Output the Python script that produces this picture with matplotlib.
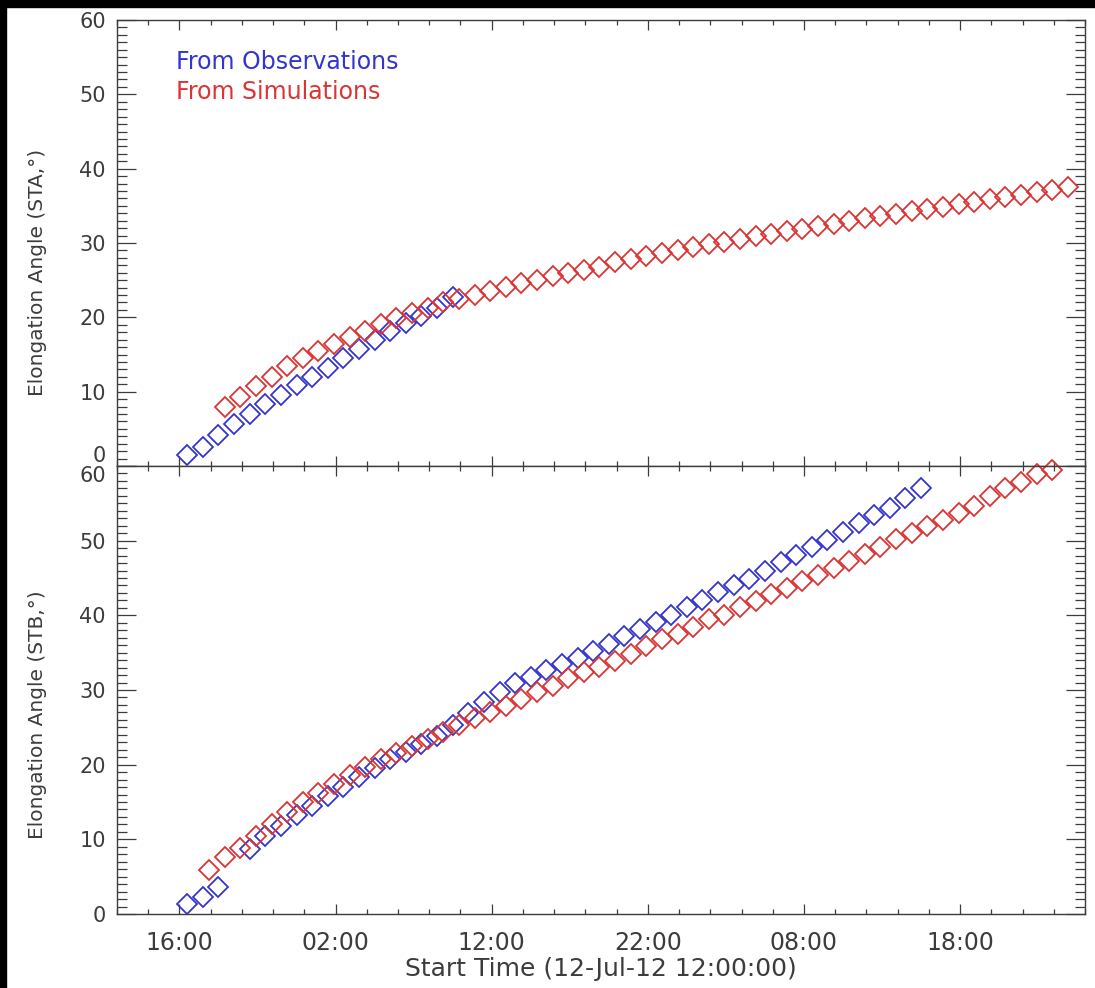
import matplotlib.pyplot as plt
from matplotlib.ticker import MultipleLocator
from matplotlib.patches import Rectangle

# time in hours after 12-Jul-12 12:00:00
sta_obs_t = [4.5, 5.5, 6.5, 7.5, 8.5, 9.5, 10.5, 11.5, 12.5, 13.5, 14.5, 15.5,
             16.5, 17.5, 18.5, 19.5, 20.5, 21.5]
sta_obs_v = [1.5, 2.6, 4.2, 5.6, 7.0, 8.3, 9.6, 10.9, 12.0, 13.2, 14.5, 15.7,
             17.0, 18.1, 19.2, 20.2, 21.3, 22.8]

sta_sim_t = [6.9, 7.9, 8.9, 9.9, 10.9, 11.9, 12.9, 13.9, 14.9, 15.9, 16.9, 17.9,
             18.9, 19.9, 20.9, 21.9, 22.9, 23.9, 24.9, 25.9, 26.9, 27.9, 28.9,
             29.9, 30.9, 31.9, 32.9, 33.9, 34.9, 35.9, 36.9, 37.9, 38.9, 39.9,
             40.9, 41.9, 42.9, 43.9, 44.9, 45.9, 46.9, 47.9, 48.9, 49.9, 50.9,
             51.9, 52.9, 53.9, 54.9, 55.9, 56.9, 57.9, 58.9, 59.9, 60.9]
sta_sim_v = [7.9, 9.3, 10.8, 12.0, 13.4, 14.5, 15.5, 16.4, 17.3, 18.2, 19.1, 19.9,
             20.6, 21.3, 22.0, 22.5, 23.0, 23.5, 24.1, 24.6, 25.0, 25.5, 26.0,
             26.4, 26.8, 27.4, 27.8, 28.2, 28.6, 29.0, 29.4, 29.8, 30.1, 30.5,
             30.9, 31.2, 31.6, 31.9, 32.3, 32.6, 32.9, 33.3, 33.6, 33.9, 34.3,
             34.6, 34.9, 35.2, 35.5, 35.9, 36.2, 36.5, 36.8, 37.1, 37.5]

stb_obs_t = [4.5, 5.5, 6.5, 8.5, 9.5, 10.5, 11.5, 12.5, 13.5, 14.5, 15.5, 16.5,
             17.5, 18.5, 19.5, 20.5, 21.5, 22.5, 23.5, 24.5, 25.5, 26.5, 27.5,
             28.5, 29.5, 30.5, 31.5, 32.5, 33.5, 34.5, 35.5, 36.5, 37.5, 38.5,
             39.5, 40.5, 41.5, 42.5, 43.5, 44.5, 45.5, 46.5, 47.5, 48.5, 49.5,
             50.5, 51.5]
stb_obs_v = [1.3, 2.3, 3.6, 8.7, 10.4, 11.8, 13.2, 14.5, 15.8, 17.0, 18.3, 19.5,
             20.7, 21.7, 22.8, 23.9, 25.3, 26.9, 28.4, 29.7, 30.9, 31.8, 32.7,
             33.5, 34.3, 35.2, 36.2, 37.2, 38.2, 39.1, 40.1, 41.1, 42.1, 43.1,
             44.0, 44.9, 46.0, 47.2, 48.1, 49.2, 50.1, 51.2, 52.3, 53.5, 54.4,
             55.7, 57.0]

stb_sim_t = [5.9, 6.9, 7.9, 8.9, 9.9, 10.9, 11.9, 12.9, 13.9, 14.9, 15.9, 16.9,
             17.9, 18.9, 19.9, 20.9, 21.9, 22.9, 23.9, 24.9, 25.9, 26.9, 27.9,
             28.9, 29.9, 30.9, 31.9, 32.9, 33.9, 34.9, 35.9, 36.9, 37.9, 38.9,
             39.9, 40.9, 41.9, 42.9, 43.9, 44.9, 45.9, 46.9, 47.9, 48.9, 49.9,
             50.9, 51.9, 52.9, 53.9, 54.9, 55.9, 56.9, 57.9, 58.9, 59.9]
stb_sim_v = [5.9, 7.6, 8.8, 10.5, 12.0, 13.6, 15.0, 16.2, 17.4, 18.6, 19.7, 20.7,
             21.6, 22.5, 23.5, 24.4, 25.3, 26.2, 27.1, 27.9, 28.8, 29.7, 30.6,
             31.6, 32.4, 33.1, 33.9, 34.8, 35.9, 36.8, 37.5, 38.4, 39.5, 40.1,
             41.1, 41.9, 42.8, 43.7, 44.6, 45.4, 46.4, 47.3, 48.2, 49.1, 50.2,
             51.0, 51.9, 52.8, 53.7, 54.6, 56.0, 57.0, 57.9, 58.9, 59.4]

tick_hours = [4, 14, 24, 34, 44, 54]
tick_labels = ['16:00', '02:00', '12:00', '22:00', '08:00', '18:00']
y_ticks = [0, 10, 20, 30, 40, 50, 60]

blue = '#3434d0'
red = '#dc3434'
grey = '#3c3c3c'

fig = plt.figure(figsize=(10.95, 9.88), dpi=100)
W, H = 1095, 988
ax1 = fig.add_axes([117 / W, 1 - 466 / H, 968 / W, 446 / H])
ax2 = fig.add_axes([117 / W, 1 - 914 / H, 968 / W, 448 / H])

# black frame strips of the original screenshot
fig.patches.append(Rectangle((0, 1 - 7 / H), 1, 7 / H, transform=fig.transFigure,
                             color='black', zorder=10))
fig.patches.append(Rectangle((0, 0), 6 / W, 1, transform=fig.transFigure,
                             color='black', zorder=10))


def style(ax, ylabel, label_y):
    ax.set_xlim(0, 62)
    ax.set_ylim(0, 60)
    ax.set_xticks(tick_hours)
    ax.xaxis.set_minor_locator(MultipleLocator(2))
    ax.set_yticks(y_ticks)
    ax.yaxis.set_minor_locator(MultipleLocator(1))
    for s in ax.spines.values():
        s.set_color(grey)
        s.set_linewidth(1.0)
    ax.tick_params(axis='both', which='both', direction='in', top=True, right=True,
                   color=grey, width=0.9, labelcolor=grey)
    ax.tick_params(axis='x', which='major', length=7, pad=12, labelsize=17)
    ax.tick_params(axis='x', which='minor', length=3.5)
    ax.tick_params(axis='y', which='major', length=14, pad=8, labelsize=15)
    ax.tick_params(axis='y', which='minor', length=7.5)
    ax.set_ylabel(ylabel, fontsize=14.5, color=grey)
    ax.yaxis.set_label_coords(-0.072, label_y)


def draw(ax, t, v, c):
    ax.plot(t, v, ls='none', marker='D', ms=10, mfc='none', mec=c, mew=1.3,
            clip_on=False)


draw(ax1, sta_obs_t, sta_obs_v, blue)
draw(ax1, sta_sim_t, sta_sim_v, red)
draw(ax2, stb_obs_t, stb_obs_v, blue)
draw(ax2, stb_sim_t, stb_sim_v, red)

style(ax1, 'Elongation Angle (STA,°)', 0.435)
style(ax2, 'Elongation Angle (STB,°)', 0.444)
ax1.tick_params(axis='x', labelbottom=False)
ax2.set_xticklabels(tick_labels)
ax2.set_xlabel('Start Time (12-Jul-12 12:00:00)', fontsize=18, color=grey, labelpad=2)

# shared boundary: lift the "0" of the top panel, drop the "60" of the bottom one
ax1.get_yticklabels()[0].set_verticalalignment('bottom')
ax2.get_yticklabels()[-1].set_verticalalignment('top')

ax1.text(0.061, 0.906, 'From Observations', transform=ax1.transAxes, color=blue,
         fontsize=17, va='center', ha='left')
ax1.text(0.061, 0.839, 'From Simulations', transform=ax1.transAxes, color=red,
         fontsize=17, va='center', ha='left')

fig.savefig('out.png', dpi=100, facecolor='white')
